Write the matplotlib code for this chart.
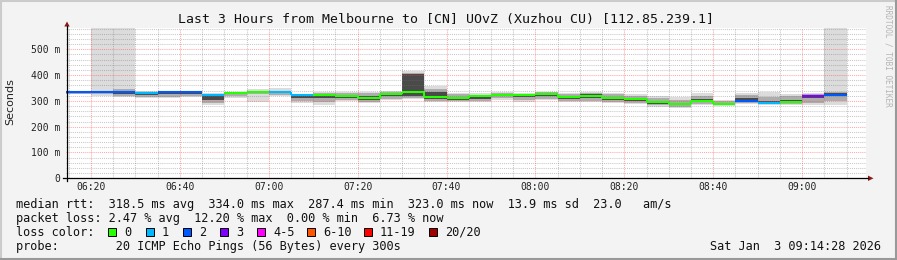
import numpy as np
import pandas as pd
import matplotlib
matplotlib.use("Agg")
import matplotlib.pyplot as plt
from matplotlib.lines import Line2D
from matplotlib.patches import Polygon, Rectangle

W, H = 897, 260
MONO = "DejaVu Sans Mono"

# time frame of the graph and the 5-minute rrd steps (labelled by step end)
t_start = pd.Timestamp("2026-01-03 06:14:28")
t_end = pd.Timestamp("2026-01-03 09:14:28")
step_end = pd.date_range("2026-01-03 06:15", "2026-01-03 09:10", freq="5min")

# median rtt per step (ms)
median_ms = [334, 334, 334, 334, 330, 333, 333, 324, 330, 335, 334, 321,
             322, 317, 310, 326, 334, 314, 311, 317, 324, 322.5, 326, 315,
             320, 310, 307, 294, 287.5, 299, 288, 301, 291.6, 294, 317, 323]
# lost pings (out of 20) per step
lost = [2, 2, 2, 2, 1, 2, 2, 1, 0, 0, 1, 1,
        0, 0, 0, 0, 0, 0, 0, 0, 0, 0, 0, 0,
        0, 0, 0, 0, 0, 0, 0, 2, 1, 0, 3, 2]
# smoke: outer / middle / core ping ranges per step (ms)
outer_lo = [325, 325, 318, 314, 310, 312, 313, 283, 312, 296, 317, 292,
            285, 300, 292, 305, 306, 295, 294, 294, 303, 294, 305, 294,
            294, 290, 286, 278, 271, 284, 281, 286, 284, 284, 284, 284]
mid_lo = [328, 328, 325, 318, 315, 316, 317, 292, 318, 326, 321, 298,
          295, 304, 297, 308, 310, 300, 299, 300, 310, 302, 309, 300,
          300, 296, 292, 283, 276, 288, 284, 291, 287, 287, 292, 300]
core_lo = [331, 331, 330, 327, 324, 325, 326, 305, 325, 332, 329, 312,
           312, 310, 304, 318, 318, 308, 305, 308, 318, 316, 318, 309,
           310, 304, 300, 289, 282, 294, 285, 297, 289, 290, 310, 318]
core_hi = [335, 335, 336, 337, 332, 334, 334, 326, 332, 336, 336, 323,
           327, 322, 318, 330, 405, 334, 316, 321, 327, 325, 331, 320,
           326, 316, 312, 299, 292, 306, 292, 312, 298, 303, 322, 331]
mid_hi = [336, 336, 340, 345, 334, 335, 335, 327, 333, 338, 340, 324,
          332, 330, 330, 335, 409, 347, 325, 324, 330, 328, 334, 327,
          332, 325, 318, 310, 302, 318, 298, 324, 316, 318, 327, 335]
outer_hi = [337, 337, 700, 700, 338, 337, 337, 329, 334, 346, 349, 326,
            334, 334, 334, 337, 414, 358, 329, 329, 334, 332, 336, 332,
            336, 329, 325, 320, 316, 329, 305, 330, 333, 326, 330, 700]

loss_bins = [(0, 0), (1, 1), (2, 2), (3, 3), (4, 5), (6, 10), (11, 19), (20, 20)]
loss_labels = ["0", "1", "2", "3", "4-5", "6-10", "11-19", "20/20"]
loss_colors = ["#26ff00", "#00b8ff", "#0059ff", "#7e00ff",
               "#ff00ff", "#ff5500", "#ff0000", "#a10000"]

y_ticks = [0, 100, 200, 300, 400, 500]
y_ticklabels = ["0", "100 m", "200 m", "300 m", "400 m", "500 m"]
x_tick_times = ["06:20", "06:40", "07:00", "07:20", "07:40", "08:00", "08:20", "08:40", "09:00"]

title = "Last 3 Hours from Melbourne to [CN] UOvZ (Xuzhou CU) [112.85.239.1]"
line_rtt = "median rtt:  318.5 ms avg  334.0 ms max  287.4 ms min  323.0 ms now  13.9 ms sd  23.0   am/s"
line_loss = "packet loss: 2.47 % avg  12.20 % max  0.00 % min  6.73 % now"
line_probe = "probe:        20 ICMP Echo Pings (56 Bytes) every 300s"
stamp = "Sat Jan  3 09:14:28 2026"


def mins(t):
    return (t - t.normalize()).total_seconds() / 60.0


def fx(x):
    return x / W


def fy(y):
    return 1 - y / H


def loss_color(n):
    for (lo, hi), c in zip(loss_bins, loss_colors):
        if lo <= n <= hi:
            return c
    return loss_colors[-1]


x_end = np.array([mins(t) for t in step_end])
x_left = x_end - 5.0
med = np.array(median_ms)

fig = plt.figure(figsize=(W / 100, H / 100), dpi=100, facecolor="#f3f3f3")
ax = fig.add_axes([fx(66.4), fy(178.3), 800 / W, 150 / H])
ax.set_facecolor("white")

# smoke
for lo, hi, col in [(outer_lo, outer_hi, "#dcdcdc"),
                    (mid_lo, mid_hi, "#adadad"),
                    (core_lo, core_hi, "#4a4a4a")]:
    lo = np.array(lo, float)
    hi = np.array(hi, float)
    ax.bar(x_left, hi - lo, width=5.0, bottom=lo, align="edge",
           color=col, linewidth=0, zorder=1)

# median line coloured by loss
cols = [loss_color(n) for n in lost]
ax.hlines(med, x_left, x_end, colors=cols, linewidth=1.5, zorder=4, capstyle="butt")
for i in range(len(med) - 1):
    if cols[i] == cols[i + 1] and med[i] != med[i + 1]:
        ax.vlines(x_end[i], med[i], med[i + 1], colors=cols[i], linewidth=1.5, zorder=4)

ax.set_xlim(mins(t_start), mins(t_end))
ax.set_ylim(0, 581)

xt = [mins(pd.Timestamp(f"2026-01-03 {s}")) for s in x_tick_times]
ax.set_xticks(xt)
ax.set_xticklabels(x_tick_times)
ax.set_xticks(np.arange(375, mins(t_end), 5), minor=True)
ax.set_yticks(y_ticks)
ax.set_yticklabels(y_ticklabels)
ax.set_yticks(np.arange(0, 581, 20), minor=True)

ax.set_axisbelow(False)
ax.grid(which="minor", color="#707070", alpha=0.38, linestyle=(0, (1, 1)), linewidth=0.75)
ax.grid(which="major", color="#ff4040", alpha=0.45, linestyle=(0, (1, 1)), linewidth=0.75)
for gl in ax.get_xgridlines() + ax.get_ygridlines():
    gl.set_zorder(2.5)

ax.tick_params(which="both", length=0)
ax.tick_params(axis="x", which="major", pad=2.4, labelsize=7, labelcolor="#222222")
ax.tick_params(axis="y", which="major", pad=4.6, labelsize=7, labelcolor="#222222")
for lab in ax.get_xticklabels() + ax.get_yticklabels():
    lab.set_family(MONO)
for sp in ax.spines.values():
    sp.set_visible(False)

# axes lines with arrows
fig.add_artist(Line2D([fx(63), fx(868)], [fy(178.3), fy(178.3)], color="black", lw=0.9))
fig.add_artist(Line2D([fx(67), fx(67)], [fy(181), fy(26)], color="black", lw=0.9))
fig.add_artist(Polygon([[fx(868), fy(175.6)], [fx(873.5), fy(178.3)], [fx(868), fy(181)]],
                       closed=True, color="#8b1a1a", lw=0))
fig.add_artist(Polygon([[fx(64.3), fy(26.5)], [fx(67), fy(21.5)], [fx(69.7), fy(26.5)]],
                       closed=True, color="#8b1a1a", lw=0))

# texts
fig.text(fx(446), fy(19.3), title, family=MONO, size=9.5, ha="center", va="center", color="#111111")
fig.text(fx(10.7), fy(101.7), "Seconds", family="DejaVu Sans", size=8, rotation=90,
         ha="center", va="center", color="#222222")
fig.text(fx(887.5), fy(5), "RRDTOOL / TOBI OETIKER", family=MONO, size=5.6, rotation=270,
         ha="center", va="top", color="#b4b4b4")

rows = [204.3, 218.3, 232.3, 246.3]
tx = 15.5
fs = 8.55
fig.text(fx(tx), fy(rows[0]), line_rtt, family=MONO, size=fs, va="center", color="#111111")
fig.text(fx(tx), fy(rows[1]), line_loss, family=MONO, size=fs, va="center", color="#111111")
fig.text(fx(tx), fy(rows[2]), "loss color:", family=MONO, size=fs, va="center", color="#111111")
fig.text(fx(tx), fy(rows[3]), line_probe, family=MONO, size=fs, va="center", color="#111111")
fig.text(fx(881), fy(rows[3]), stamp, family=MONO, size=fs, ha="right", va="center", color="#111111")

box_x = [108, 146, 183, 220, 257, 307, 364, 429]
for bx, lab, c in zip(box_x, loss_labels, loss_colors):
    fig.add_artist(Rectangle((fx(bx), fy(236)), 8 / W, 8 / H, facecolor=c,
                             edgecolor="black", lw=0.7))
    fig.text(fx(bx + 16), fy(rows[2]), lab, family=MONO, size=fs, va="center", color="#111111")

# 3d frame
fig.add_artist(Line2D([0, 1], [fy(0.5), fy(0.5)], color="#cbcbcb", lw=1.5))
fig.add_artist(Line2D([fx(0.5), fx(0.5)], [0, 1], color="#cbcbcb", lw=1.5))
fig.add_artist(Line2D([0, 1], [fy(259), fy(259)], color="#999999", lw=1.5))
fig.add_artist(Line2D([fx(896), fx(896)], [0, 1], color="#999999", lw=1.5))

fig.savefig("out.png", dpi=100, facecolor=fig.get_facecolor())
